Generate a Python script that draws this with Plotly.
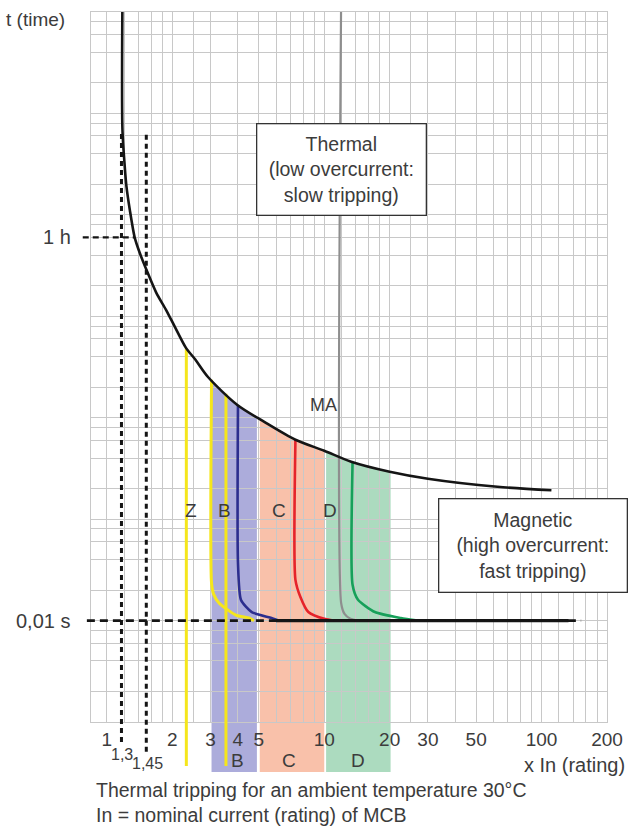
import numpy as np
import plotly.graph_objects as go

# ---------------- axis / grid definitions ----------------
X_MIN, X_MAX = 0.845, 200.0
GRID_X = [1, 1.2, 1.4, 1.6, 1.8, 2, 2.5, 3, 4, 5, 6, 7, 8, 9,
          10, 12, 14, 16, 18, 20, 25, 30, 40, 50, 60, 70, 80, 90,
          100, 120, 140, 160, 180, 200]
X_TICK_VALUES = [1, 2, 3, 4, 5, 10, 20, 30, 50, 100, 200]
X_TICK_LABELS = ["1", "2", "3", "4", "5", "10", "20", "30", "50", "100", "200"]

# time axis (seconds, log) and the log-paper grid drawn behind it
T_LOG_MIN, T_LOG_MAX = -3.4707, 6.824
PAPER_DECADES = 7
GRID_MANTISSA = [1, 2, 4, 6, 8]

# reference marks
T_1H = 3600.0
T_INST = 0.01
X_13 = 1.167     # "1,3" conventional non-tripping current mark
X_145 = 1.518    # "1,45" conventional tripping current mark
DOTTED_TOP_T = 1.24e5
X_1H_CROSS = 1.342
X_INST_DASH_END = 152.0

# ---------------- data ----------------
# thermal (upper) boundary curve
THERMAL_X = [1.179, 1.179, 1.208, 1.230, 1.274, 1.342, 1.414, 1.539, 1.686, 1.868, 2.063, 2.311,
             2.551, 2.918, 3.97, 5.3, 7.37, 10.0, 13.3, 20.0, 30.0, 62.6, 111.0]
THERMAL_T = [1e7, 1.32e5, 3.85e4, 1.97e4, 9140, 3600, 2170, 1110, 570, 323, 177, 90,
             61, 34, 13.5, 7.6, 4.19, 2.9, 2.01, 1.44, 1.14, 0.87, 0.775]

# magnetic trip curves
Z_X = [2.32, 2.32]
Z_T = [88.0, 1e-5]
B_YEL_X = [3.03, 3.03, 3.1, 3.28, 3.92, 4.5, 4.75]
B_YEL_T = [31.0, 0.035, 0.024, 0.018, 0.012, 0.0109, 0.01]
B_LINE_X = [3.53, 3.53]
B_LINE_T = [19.5, 1e-5]
B_BLUE_X = [4.01, 4.01, 4.14, 4.64, 5.72, 6.17]
B_BLUE_T = [13.4, 0.069, 0.0199, 0.0133, 0.0109, 0.01]
C_RED_X = [7.37, 7.37, 7.77, 8.45, 10.1, 11.0]
C_RED_T = [4.15, 0.039, 0.022, 0.0133, 0.0105, 0.01]
MA_X = [11.96, 11.96, 12.4, 13.2, 14.3]
MA_T = [1e7, 0.018, 0.0125, 0.0106, 0.01]
D_GREEN_X = [13.5, 13.5, 14.3, 17.1, 22.5, 26.9]
D_GREEN_T = [1.98, 0.033, 0.02, 0.0133, 0.0109, 0.01]
INST_X = [6.0, 133.0]
INST_T = [0.01, 0.01]

# tripping bands (B, C, D)
BAND_NAMES = ["B", "C", "D"]
BAND_X0 = [3.03, 5.05, 10.2]
BAND_X1 = [4.9, 10.0, 20.2]
BAND_TOP_X = [[3.03, 3.5, 3.97, 4.4, 4.9], [5.05, 6.2, 7.37, 8.6, 10.0], [10.2, 11.6, 13.3, 16.3, 20.2]]
BAND_TOP_T = [[31.0, 19.5, 13.5, 10.5, 8.6], [8.2, 5.6, 4.15, 3.4, 2.9], [2.8, 2.3, 1.98, 1.68, 1.43]]
BAND_COLORS = ["rgba(160,160,214,0.88)", "rgba(248,184,158,0.88)", "rgba(160,214,182,0.88)"]
BAND_LABEL_X = [4.0, 6.85, 14.3]

# in-plot labels
CURVE_LABELS = ["Z", "B", "C", "D"]
CURVE_LABEL_X = [2.45, 3.46, 6.16, 10.6]
CURVE_LABEL_T = 0.40
MA_LABEL_X, MA_LABEL_T = 9.9, 13.5

YELLOW = "#f5e61c"
BLUE = "#2c2e8e"
RED = "#e5232b"
GREEN = "#17a05a"
GREY = "#8e8e8e"
BLACK = "#151515"
GRIDC = "#c8c8c8"
TXT = "#3c3c3c"

XR = [np.log10(X_MIN), np.log10(X_MAX)]
YR = [T_LOG_MIN, T_LOG_MAX]


def xp(x):
    return (np.log10(x) - XR[0]) / (XR[1] - XR[0])


def yp(t):
    return (np.log10(t) - YR[0]) / (YR[1] - YR[0])


fig = go.Figure()

# invisible trace to activate the grid axis
fig.add_trace(go.Scatter(x=[None], y=[None], yaxis="y2", showlegend=False, hoverinfo="skip"))


def curve(x, t, color, width, shape="spline", smoothing=0.6):
    fig.add_trace(go.Scatter(x=x, y=t, mode="lines",
                             line=dict(color=color, width=width, shape=shape, smoothing=smoothing),
                             showlegend=False, hoverinfo="skip"))


curve(Z_X, Z_T, YELLOW, 3, "linear")
curve(B_LINE_X, B_LINE_T, YELLOW, 3, "linear")
curve(B_YEL_X, B_YEL_T, YELLOW, 3)
curve(B_BLUE_X, B_BLUE_T, BLUE, 2.6)
curve(C_RED_X, C_RED_T, RED, 2.6)
curve(MA_X, MA_T, GREY, 2.2)
curve(D_GREEN_X, D_GREEN_T, GREEN, 2.6)
curve(INST_X, INST_T, BLACK, 3.2, "linear")
curve(THERMAL_X, THERMAL_T, BLACK, 2.6, "spline", 0.8)

shapes = []
# bands inside the plot (below grid) and their extension under the axis
for x0, x1, tx, tt, col in zip(BAND_X0, BAND_X1, BAND_TOP_X, BAND_TOP_T, BAND_COLORS):
    path = f"M{x0},1e-5 " + " ".join(f"L{a},{b}" for a, b in zip(tx, tt)) + f" L{x1},1e-5 Z"
    shapes.append(dict(type="path", xref="x", yref="y", path=path, fillcolor=col,
                       line=dict(width=0), layer="below"))
    shapes.append(dict(type="rect", xref="x", yref="paper", x0=x0, x1=x1, y0=-0.0703, y1=0,
                       fillcolor=col, line=dict(width=0), layer="below"))

# yellow straight lines continuing under the axis
for xv in (Z_X[0], B_LINE_X[0]):
    shapes.append(dict(type="line", xref="x", yref="paper", x0=xv, x1=xv, y0=-0.062, y1=0,
                       line=dict(color=YELLOW, width=3)))

# dotted vertical marks 1,3 and 1,45
for xv, yb in ((X_13, -0.028), (X_145, -0.042)):
    shapes.append(dict(type="line", xref="x", yref="paper", x0=xv, x1=xv, y0=yb, y1=yp(DOTTED_TOP_T),
                       line=dict(color=BLACK, width=3, dash="5px,4px")))

# dashed horizontal reference lines
shapes.append(dict(type="line", xref="paper", yref="y", x0=-0.016, x1=xp(X_1H_CROSS), y0=T_1H, y1=T_1H,
                   line=dict(color=BLACK, width=2.2, dash="6px,4px")))
shapes.append(dict(type="line", xref="paper", yref="y", x0=-0.008, x1=xp(X_INST_DASH_END),
                   y0=T_INST, y1=T_INST, line=dict(color=BLACK, width=2.8, dash="8px,5px")))

C = dict(xanchor="center", yanchor="middle", showarrow=False)
ann = []
for lab, xv in zip(CURVE_LABELS, CURVE_LABEL_X):
    ann.append(dict(x=np.log10(xv), y=np.log10(CURVE_LABEL_T), xref="x", yref="y", text=lab,
                    font=dict(size=19, color=TXT), **C))
ann.append(dict(x=np.log10(MA_LABEL_X), y=np.log10(MA_LABEL_T), xref="x", yref="y", text="MA",
                font=dict(size=18, color=TXT), **C))
for lab, xv in zip(BAND_NAMES, BAND_LABEL_X):
    ann.append(dict(x=np.log10(xv), y=-0.054, xref="x", yref="paper", text=lab,
                    font=dict(size=19, color=TXT), **C))
ann.append(dict(x=np.log10(X_13), y=-0.046, xref="x", yref="paper", text="1,3", xshift=1,
                font=dict(size=16, color=TXT), **C))
ann.append(dict(x=np.log10(X_145), y=-0.058, xref="x", yref="paper", text="1,45", xshift=1,
                font=dict(size=16, color=TXT), **C))
ann.append(dict(x=-0.034, y=np.log10(T_1H), xref="paper", yref="y", text="1 h", xanchor="right",
                yanchor="middle", showarrow=False, font=dict(size=20, color=TXT)))
ann.append(dict(x=-0.036, y=np.log10(T_INST), xref="paper", yref="y", text="0,01 s", xanchor="right",
                yanchor="middle", showarrow=False, font=dict(size=20, color=TXT)))
ann.append(dict(x=-0.168, y=0.99, xref="paper", yref="paper", text="t (time)", xanchor="left",
                yanchor="middle", showarrow=False, font=dict(size=19, color=TXT)))
ann.append(dict(x=1.039, y=-0.0605, xref="paper", yref="paper", text="x In (rating)", xanchor="right",
                yanchor="middle", showarrow=False, font=dict(size=20, color=TXT)))
ann.append(dict(x=0.006, y=-0.0956, xref="paper", yref="paper",
                text="Thermal tripping for an ambient temperature 30°C", xanchor="left",
                yanchor="middle", showarrow=False, font=dict(size=19.5, color=TXT)))
ann.append(dict(x=0.006, y=-0.1308, xref="paper", yref="paper",
                text="In = nominal current (rating) of MCB", xanchor="left",
                yanchor="middle", showarrow=False, font=dict(size=19.5, color=TXT)))
ann.append(dict(x=0.4846, y=0.7785, xref="paper", yref="paper",
                text="Thermal<br>(low overcurrent:<br>slow tripping)",
                bordercolor="#333333", borderwidth=1.3, borderpad=2, bgcolor="white",
                width=164, height=86, font=dict(size=19.5, color=TXT), **C))
ann.append(dict(x=0.8567, y=0.249, xref="paper", yref="paper",
                text="Magnetic<br>(high overcurrent:<br>fast tripping)",
                bordercolor="#333333", borderwidth=1.3, borderpad=2, bgcolor="white",
                width=183, height=88, font=dict(size=19.5, color=TXT), **C))

grid_y = [m * 10 ** k for k in range(PAPER_DECADES) for m in GRID_MANTISSA] + [10 ** PAPER_DECADES]

fig.update_layout(
    width=634, height=831,
    margin=dict(l=91, r=23, t=11, b=109),
    plot_bgcolor="white", paper_bgcolor="white",
    showlegend=False,
    font=dict(family="Liberation Sans, Arial, sans-serif", size=19, color=TXT),
    xaxis=dict(type="log", range=XR, tickvals=GRID_X,
               ticktext=[X_TICK_LABELS[X_TICK_VALUES.index(v)] if v in X_TICK_VALUES else "" for v in GRID_X],
               showgrid=True, gridcolor=GRIDC, gridwidth=1.3, showline=True, linecolor=GRIDC,
               linewidth=1.3, mirror=True, ticks="", zeroline=False,
               tickfont=dict(size=19, color=TXT)),
    yaxis=dict(type="log", range=YR, showgrid=False, showticklabels=False, ticks="",
               showline=True, linecolor=GRIDC, linewidth=1.3, mirror=True, zeroline=False),
    yaxis2=dict(type="log", range=[0, PAPER_DECADES], overlaying="y", anchor="x", tickvals=grid_y,
                showticklabels=False, ticks="", showgrid=True, gridcolor=GRIDC, gridwidth=1.3,
                zeroline=False, showline=False),
    shapes=shapes, annotations=ann,
)

fig.write_html("out.html", config={"displayModeBar": False},
               post_script="document.body.style.margin='0px';")
